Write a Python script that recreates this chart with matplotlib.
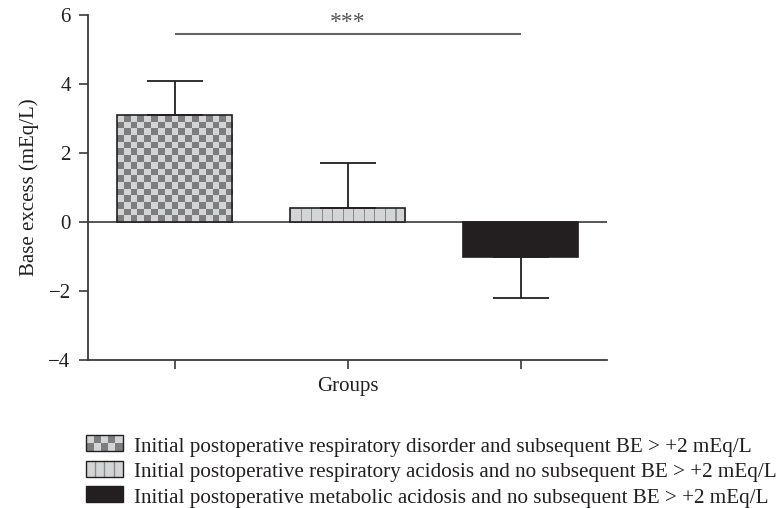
import numpy as np
import matplotlib
matplotlib.use("Agg")
import matplotlib.pyplot as plt
from matplotlib.patches import Rectangle
from matplotlib.colors import ListedColormap

# values
groups = [
    "Initial postoperative respiratory disorder and subsequent BE > +2 mEq/L",
    "Initial postoperative respiratory acidosis and no subsequent BE > +2 mEq/L",
    "Initial postoperative metabolic acidosis and no subsequent BE > +2 mEq/L",
]
means = [3.1, 0.4, -1.0]
errors = [1.0, 1.3, 1.2]
yticks = [-4, -2, 0, 2, 4, 6]
sig_pair = [0, 2]
sig_y = 5.45
sig_label = "***"

INK = "#231f20"
DARK = "#7d7d80"
LIGHT = "#d3d4d6"
STRIPE = "#8c8c8e"

plt.rcParams["font.family"] = ["Liberation Serif", "DejaVu Serif"]
plt.rcParams["font.size"] = 15
plt.rcParams["text.color"] = INK
plt.rcParams["axes.labelcolor"] = INK
plt.rcParams["xtick.color"] = "#3a3a3a"
plt.rcParams["ytick.color"] = "#3a3a3a"
plt.rcParams["xtick.labelcolor"] = INK
plt.rcParams["ytick.labelcolor"] = INK


class SwatchHandler:
    """Legend swatch that mimics the bar fill patterns."""

    def __init__(self, kind):
        self.kind = kind

    def legend_artist(self, legend, orig_handle, fontsize, handlebox):
        x0, y0 = handlebox.xdescent, handlebox.ydescent
        w, h = handlebox.width, handlebox.height
        tr = handlebox.get_transform()
        if self.kind == "checker":
            ncol, nrow = 5, 2
            for i in range(nrow):
                for j in range(ncol):
                    c = DARK if (i + j) % 2 == 0 else LIGHT
                    handlebox.add_artist(Rectangle((x0 + j * w / ncol, y0 + i * h / nrow),
                                                   w / ncol, h / nrow, facecolor=c,
                                                   edgecolor="none", transform=tr))
        elif self.kind == "stripes":
            handlebox.add_artist(Rectangle((x0, y0), w, h, facecolor=LIGHT,
                                           edgecolor="none", transform=tr))
            for k in range(1, 4):
                handlebox.add_artist(plt.Line2D([x0 + k * w / 4] * 2, [y0, y0 + h],
                                                color=STRIPE, lw=1.0, transform=tr))
        face = INK if self.kind == "solid" else "none"
        outline = Rectangle((x0, y0), w, h, facecolor=face, edgecolor=INK,
                            lw=1.0, transform=tr)
        handlebox.add_artist(outline)
        return outline


fig = plt.figure(figsize=(7.82, 5.08), dpi=100)
ax = fig.add_axes([88 / 782, 1 - 360 / 508, (607 - 88) / 782, (360 - 15) / 508])

x = np.arange(len(means))
bars = ax.bar(x, means, width=0.67, facecolor=["none", "none", INK],
              edgecolor=INK, linewidth=1.2, zorder=3)

# checkerboard fill for the first bar
b = bars[0]
checker = np.indices((16, 17)).sum(axis=0) % 2
im = ax.imshow(checker, extent=[b.get_x(), b.get_x() + b.get_width(), 0, b.get_height()],
               origin="lower", cmap=ListedColormap([DARK, LIGHT]), interpolation="nearest",
               aspect="auto", zorder=2)
im.set_clip_path(b)

# vertical stripes for the second bar
b = bars[1]
stripes = np.zeros((1, 11 * 10))
stripes[0, 10::10] = 1
im2 = ax.imshow(stripes, extent=[b.get_x(), b.get_x() + b.get_width(), 0, b.get_height()],
                origin="lower", cmap=ListedColormap([LIGHT, STRIPE]), interpolation="nearest",
                aspect="auto", zorder=2)
im2.set_clip_path(b)

means_a = np.array(means)
err_a = np.array(errors)
upper = np.where(means_a >= 0, err_a, 0)
lower = np.where(means_a < 0, err_a, 0)
ax.errorbar(x, means, yerr=[lower, upper], fmt="none", ecolor=INK, elinewidth=1.3,
            capsize=20.5, capthick=1.3, zorder=4)

ax.axhline(0, color="#3a3a3a", lw=1.2, zorder=1)

# significance bracket
ax.plot(sig_pair, [sig_y, sig_y], color="#666666", lw=1.5, solid_capstyle="butt")
ax.text(np.mean(sig_pair), sig_y + 0.02, sig_label, ha="center", va="bottom", fontsize=17,
        color="#555555")

ax.set_xlim(-0.5, 2.5)
ax.set_ylim(-4, 6)
ax.set_yticks(yticks)
ax.set_xticks(x)
ax.set_xticklabels([])
ax.tick_params(axis="both", direction="out", length=6.5, width=1.2, labelsize=15)
ax.tick_params(axis="y", pad=6)
for side in ["top", "right"]:
    ax.spines[side].set_visible(False)
for side in ["left", "bottom"]:
    ax.spines[side].set_color("#3a3a3a")
    ax.spines[side].set_linewidth(1.3)

ax.set_ylabel("Base excess (mEq/L)", fontsize=15, labelpad=7)
ax.set_xlabel("Groups", fontsize=15, labelpad=2)

proxies = [Rectangle((0, 0), 1, 1) for _ in groups]
kinds = ["checker", "stripes", "solid"]
fig.legend(proxies, groups, handler_map={p: SwatchHandler(k) for p, k in zip(proxies, kinds)},
           loc="upper left", bbox_to_anchor=(80 / 782, 1 - 430 / 508), frameon=False,
           fontsize=15.2, handlelength=1.72, handleheight=0.77, handletextpad=0.54,
           labelspacing=0.25, borderaxespad=0, borderpad=0.3)

fig.savefig("out.png", dpi=100)
